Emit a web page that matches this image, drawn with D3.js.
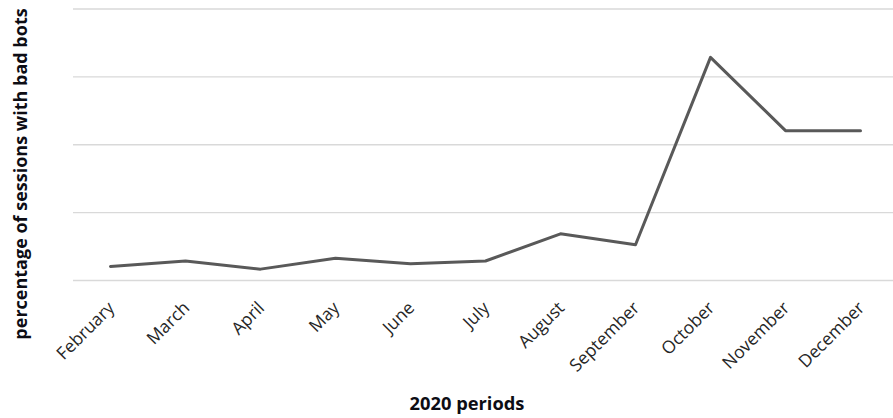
<!DOCTYPE html>
<html>
<head>
<meta charset="utf-8">
<script src="https://cdn.jsdelivr.net/npm/d3@7"></script>
<style>
  html, body { margin: 0; padding: 0; background: #fff; }
  svg { display: block; font-family: "Open Sans", sans-serif; }
</style>
</head>
<body>
<svg id="chart" width="893" height="418"></svg>
<script>
// Months of 2020 shown on the x axis
const months = ["February", "March", "April", "May", "June", "July",
                "August", "September", "October", "November", "December"];
// Share of sessions with bad bots (%)
const badBotShare = [1.0, 1.4, 0.8, 1.6, 1.2, 1.4, 3.4, 2.6, 16.4, 11.0, 11.0];
// Horizontal gridline levels
const gridLevels = [0, 5, 10, 15, 20];

const svg = d3.select("#chart");
const plot = { left: 73, right: 898, top: 8.5, bottom: 280 };

const x = d3.scaleBand().domain(months).range([plot.left, plot.right]).padding(0);
const y = d3.scaleLinear().domain([0, 20]).range([plot.bottom, plot.top]);

// Gridlines (no tick labels on the value axis)
const yAxis = d3.axisLeft(y).tickValues(gridLevels)
  .tickSize(-(plot.right - plot.left)).tickFormat("");
svg.append("g")
  .attr("transform", `translate(${plot.left},0)`)
  .call(yAxis)
  .call(g => g.select(".domain").remove())
  .call(g => g.selectAll(".tick line").attr("stroke", "#d9d9d9").attr("stroke-width", 1.3));

// Category axis with rotated month labels
const xAxis = d3.axisBottom(x).tickSize(0).tickPadding(0);
svg.append("g")
  .attr("transform", `translate(0,${plot.bottom})`)
  .call(xAxis)
  .attr("font-family", "'Open Sans', sans-serif")
  .attr("font-size", 17.5)
  .call(g => g.select(".domain").remove())
  .call(g => g.selectAll(".tick text")
    .attr("fill", "#262626")
    .attr("text-anchor", "end")
    .attr("dy", null)
    .attr("y", 0)
    .attr("transform", "translate(5,29) rotate(-45)"));

// The series line
const line = d3.line()
  .x((d, i) => x(months[i]) + x.bandwidth() / 2)
  .y(d => y(d));
svg.append("path")
  .datum(badBotShare)
  .attr("fill", "none")
  .attr("stroke", "#595959")
  .attr("stroke-width", 3)
  .attr("stroke-linejoin", "round")
  .attr("stroke-linecap", "round")
  .attr("d", line);

// Axis titles
svg.append("text")
  .attr("x", 467).attr("y", 410)
  .attr("text-anchor", "middle")
  .attr("font-weight", "bold")
  .attr("font-size", 18.3)
  .attr("fill", "#0d0d14")
  .text("2020 periods");

svg.append("text")
  .attr("transform", "translate(27,174) rotate(-90)")
  .attr("text-anchor", "middle")
  .attr("font-weight", "bold")
  .attr("font-size", 18)
  .attr("fill", "#0d0d14")
  .text("percentage of sessions with bad bots");
</script>
</body>
</html>
